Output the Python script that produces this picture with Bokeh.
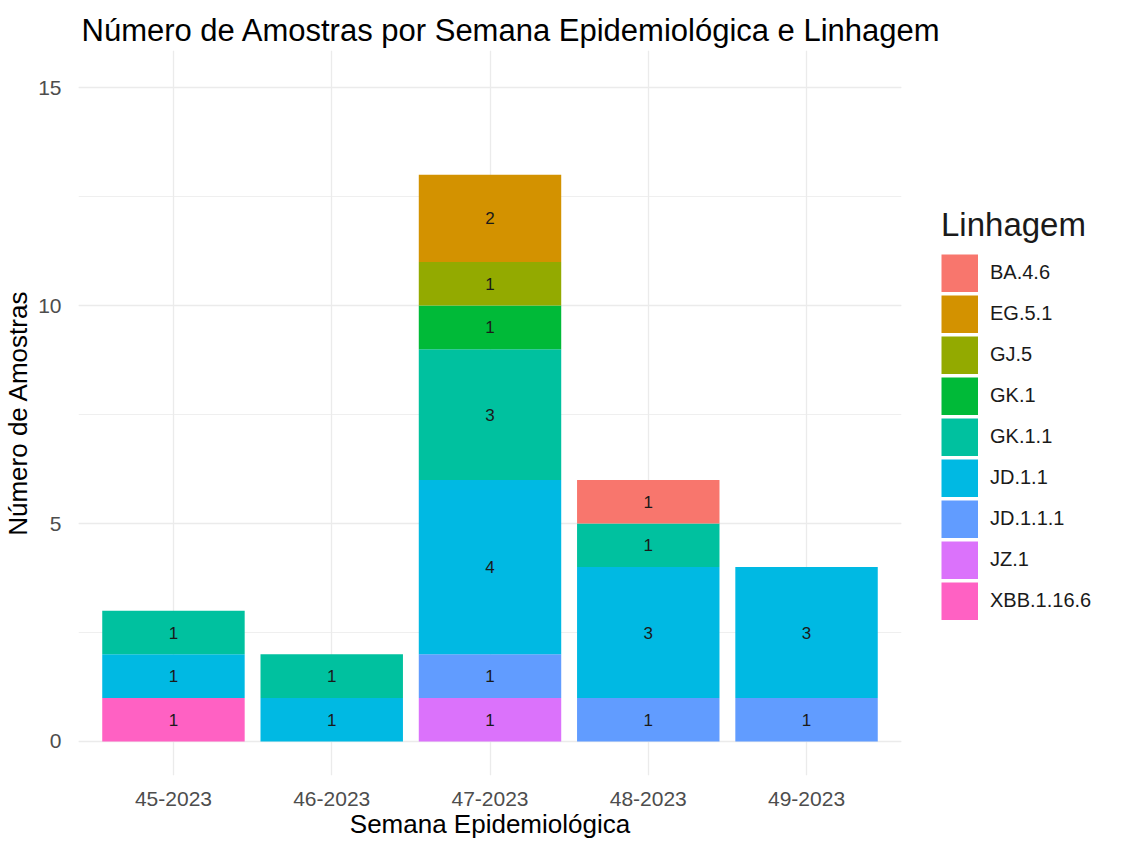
from bokeh.plotting import figure
from bokeh.models import ColumnDataSource, Legend, LegendItem, SingleIntervalTicker, FactorRange, Range1d
from bokeh.core.properties import value
from bokeh.embed import file_html
from bokeh.resources import INLINE

weeks = ["45-2023", "46-2023", "47-2023", "48-2023", "49-2023"]
lineages = ["BA.4.6", "EG.5.1", "GJ.5", "GK.1", "GK.1.1", "JD.1.1", "JD.1.1.1", "JZ.1", "XBB.1.16.6"]
colors = ["#F8766D", "#D39200", "#93AA00", "#00BA38", "#00C19F", "#00B9E3", "#619CFF", "#DB72FB", "#FF61C3"]

BA_4_6 = [0, 0, 0, 1, 0]
EG_5_1 = [0, 0, 2, 0, 0]
GJ_5 = [0, 0, 1, 0, 0]
GK_1 = [0, 0, 1, 0, 0]
GK_1_1 = [1, 1, 3, 1, 0]
JD_1_1 = [1, 1, 4, 3, 3]
JD_1_1_1 = [0, 0, 1, 1, 1]
JZ_1 = [0, 0, 1, 0, 0]
XBB_1_16_6 = [1, 0, 0, 0, 0]

series = [BA_4_6, EG_5_1, GJ_5, GK_1, GK_1_1, JD_1_1, JD_1_1_1, JZ_1, XBB_1_16_6]

FONT = "Liberation Sans"

data = {"week": weeks}
for name, vals in zip(lineages, series):
    data[name] = vals
src = ColumnDataSource(data)

xr = FactorRange(*weeks)
xr.range_padding_units = "absolute"
xr.range_padding = 0.1

p = figure(x_range=xr,
           y_range=(-0.78, 15.85),
           frame_width=823, frame_height=725,
           min_border_left=70, min_border_top=50, min_border_bottom=58, min_border_right=0,
           output_backend="svg", toolbar_location=None,
           title="Número de Amostras por Semana Epidemiológica e Linhagem")
p.background_fill_color = "white"
p.border_fill_color = "white"
p.outline_line_color = None

# stacking: first factor on top (ggplot order)
stack_order = list(reversed(lineages))
stack_colors = list(reversed(colors))
rends = p.vbar_stack(stack_order, x="week", width=0.9, color=stack_colors, source=src, line_color=None)

# labels at segment centers
lx, ly, lt = [], [], []
for i, w in enumerate(weeks):
    base = 0
    for name in stack_order:
        v = data[name][i]
        if v > 0:
            lx.append(w)
            ly.append(base + v / 2)
            lt.append(str(v))
        base += v
p.text(x=lx, y=ly, text=lt, text_align="center", text_baseline="middle",
       text_font=value(FONT), text_font_size="17px", text_color="#1a1a1a")

# legend key proxies: solid swatches drawn only in the legend
# (their data sit on an off-screen range, so nothing shows in the panel)
p.extra_y_ranges = {"legend_keys": Range1d(1000, 1001)}
key_rends = {}
for name, c in zip(lineages, colors):
    key_rends[name] = p.line(x="week", y=name, source=src, line_color=c, line_width=38,
                             line_cap="butt", y_range_name="legend_keys")

# title
p.title.text_font = FONT
p.title.text_font_size = "31px"
p.title.text_font_style = "normal"
p.title.text_color = "black"
p.title.offset = 3
p.title.standoff = 6

# axes
for ax in (p.xaxis[0], p.yaxis[0]):
    ax.axis_line_color = None
    ax.major_tick_line_color = None
    ax.minor_tick_line_color = None
    ax.major_label_text_font = FONT
    ax.major_label_text_font_size = "21px"
    ax.major_label_text_color = "#4D4D4D"
    ax.axis_label_text_font = FONT
    ax.axis_label_text_font_size = "26px"
    ax.axis_label_text_font_style = "normal"
    ax.axis_label_text_color = "black"

p.xaxis.axis_label = "Semana Epidemiológica"
p.yaxis.axis_label = "Número de Amostras"
p.xaxis.major_label_standoff = 10
p.xaxis.axis_label_standoff = 0
p.yaxis.major_label_standoff = 11
p.yaxis.axis_label_standoff = 2
p.yaxis.ticker = SingleIntervalTicker(interval=5, num_minor_ticks=2)

p.ygrid.grid_line_color = "#EBEBEB"
p.ygrid.grid_line_width = 1.3
p.ygrid.minor_grid_line_color = "#EBEBEB"
p.ygrid.minor_grid_line_width = 0.8
p.xgrid.grid_line_color = "#EBEBEB"
p.xgrid.grid_line_width = 1.3

items = [LegendItem(label=name, renderers=[key_rends[name]]) for name in lineages]
legend = Legend(items=items, location="left",
                title="Linhagem", title_text_font=FONT,
                title_text_font_size="33px", title_text_font_style="normal",
                title_text_color="#1a1a1a", title_standoff=10,
                label_text_font=FONT, label_text_font_size="20px", label_text_color="#1a1a1a",
                glyph_width=37, glyph_height=38, spacing=3, label_standoff=12,
                padding=0, margin=40, border_line_color=None, background_fill_alpha=0)
p.add_layout(legend, "right")

open("out.html", "w").write(file_html(p, INLINE))
